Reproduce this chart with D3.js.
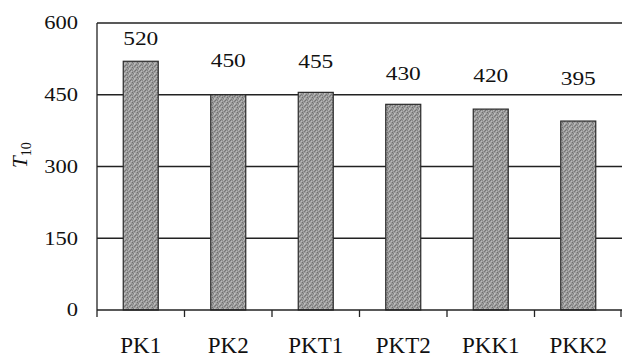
<!DOCTYPE html>
<html>
<head>
<meta charset="utf-8">
<script src="https://cdn.jsdelivr.net/npm/d3@7"></script>
<style>
  html, body { margin: 0; padding: 0; background: #fff; }
  svg { display: block; }
  text { font-family: "Liberation Serif", "Times New Roman", serif; fill: #111; }
</style>
</head>
<body>
<script>
// Samples and their T10 values
const categories = ["PK1", "PK2", "PKT1", "PKT2", "PKK1", "PKK2"];
const values = [520, 450, 455, 430, 420, 395];
const yTicks = [0, 150, 300, 450, 600];

const W = 622, H = 358;
const plotLeft = 97, plotRight = 622, plotTop = 23, plotBottom = 310;

// how far each value label sits above its bar
const labelLift = [16, 28, 24, 24, 27, 36];

const svg = d3.select("body").append("svg")
  .attr("width", W).attr("height", H);

// stippled grey fill for the bars (fixed 5x5 dot layout)
const defs = svg.append("defs");
const pat = defs.append("pattern")
  .attr("id", "stipple")
  .attr("patternUnits", "userSpaceOnUse")
  .attr("width", 5).attr("height", 5);
pat.append("rect").attr("width", 5).attr("height", 5).attr("fill", "#9a9a9a");
const dots = [
  [0,0,"#727272"],[3,0,"#b6b6b6"],[1,1,"#bcbcbc"],[4,1,"#7a7a7a"],
  [2,2,"#6e6e6e"],[0,3,"#b0b0b0"],[3,3,"#808080"],[1,4,"#7c7c7c"],
  [4,4,"#b8b8b8"],[2,0,"#888888"],[0,2,"#a8a8a8"],[4,3,"#c0c0c0"]
];
dots.forEach(([px, py, c]) =>
  pat.append("rect").attr("x", px).attr("y", py).attr("width", 1).attr("height", 1).attr("fill", c));

const x = d3.scaleBand().domain(categories).range([plotLeft, plotRight]).paddingInner(0).paddingOuter(0);
const y = d3.scaleLinear().domain([0, 600]).range([plotBottom, plotTop]);

// horizontal gridlines
svg.append("g").selectAll("line")
  .data(yTicks.filter(t => t > 0))
  .join("line")
  .attr("x1", plotLeft).attr("x2", plotRight)
  .attr("y1", d => y(d)).attr("y2", d => y(d))
  .attr("stroke", "#222").attr("stroke-width", 1.3);

// y axis labels
svg.append("g").selectAll("text")
  .data(yTicks)
  .join("text")
  .attr("transform", d => `translate(78,${y(d)}) scale(1.22,1)`)
  .attr("text-anchor", "end")
  .attr("dy", "0.35em")
  .style("font-size", "18.5px")
  .text(d => d);

// bars
const bw = x.bandwidth() * 0.4;
svg.append("g").selectAll("rect")
  .data(values)
  .join("rect")
  .attr("x", (d, i) => x(categories[i]) + x.bandwidth() / 2 - bw / 2)
  .attr("y", d => y(d))
  .attr("width", bw)
  .attr("height", d => y(0) - y(d))
  .attr("fill", "url(#stipple)")
  .attr("stroke", "#2a2a2a").attr("stroke-width", 1.2);

// value labels
svg.append("g").selectAll("text")
  .data(values)
  .join("text")
  .attr("transform", (d, i) => `translate(${x(categories[i]) + x.bandwidth() / 2},${y(d) - labelLift[i]}) scale(1.2,1)`)
  .attr("text-anchor", "middle")
  .style("font-size", "19.5px")
  .text(d => d);

// axis lines
svg.append("line").attr("x1", plotLeft).attr("x2", plotLeft).attr("y1", plotTop).attr("y2", plotBottom + 7)
  .attr("stroke", "#222").attr("stroke-width", 1.3);
svg.append("line").attr("x1", plotLeft).attr("x2", plotRight).attr("y1", plotBottom).attr("y2", plotBottom)
  .attr("stroke", "#222").attr("stroke-width", 1.3);

// category boundary ticks
const bounds = categories.map(c => x(c)).concat([x(categories[categories.length - 1]) + x.bandwidth()]);
svg.append("g").selectAll("line")
  .data(bounds.slice(1))
  .join("line")
  .attr("x1", d => Math.min(d, W - 1)).attr("x2", d => Math.min(d, W - 1))
  .attr("y1", plotBottom).attr("y2", plotBottom + 7)
  .attr("stroke", "#222").attr("stroke-width", 1.3);

// category labels
svg.append("g").selectAll("text")
  .data(categories)
  .join("text")
  .attr("x", d => x(d) + x.bandwidth() / 2)
  .attr("y", 353)
  .attr("text-anchor", "middle")
  .style("font-size", "23px")
  .text(d => d);

// y axis title: italic T with subscript 10
const title = svg.append("text")
  .attr("transform", "translate(27,168) rotate(-90)")
  .style("font-size", "21px");
title.append("tspan").style("font-style", "italic").text("T");
title.append("tspan").attr("dy", "0.28em").style("font-size", "14px").text("10");
</script>
</body>
</html>
